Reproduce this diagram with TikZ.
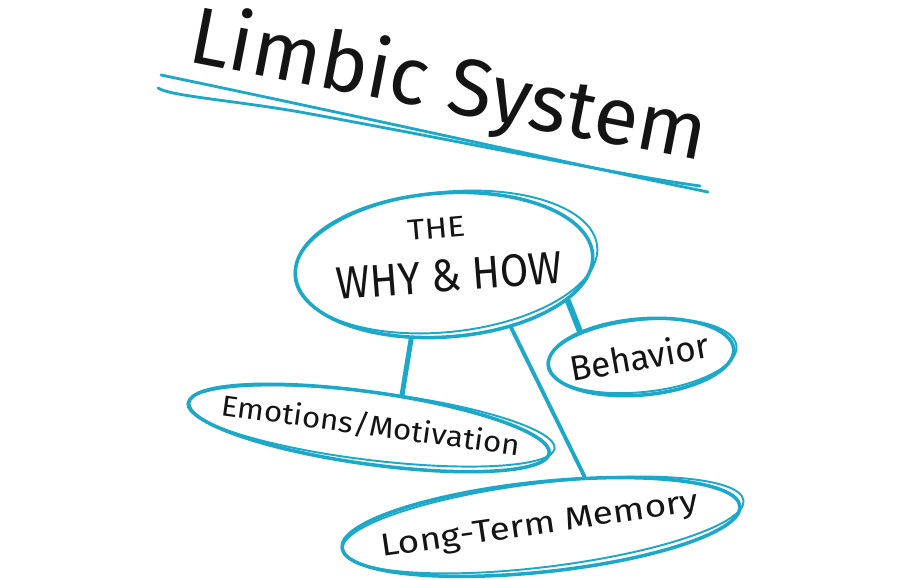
\documentclass[tikz,border=0pt]{standalone}
\usepackage{fontspec}
\setmainfont{Fira Sans}
\usetikzlibrary{shapes.geometric}
\definecolor{cy}{RGB}{28,168,200}
\begin{document}
\begin{tikzpicture}[x=0.02cm,y=-0.02cm,
  oval/.style={ellipse, draw=cy, line width=2pt, inner sep=0pt},
  ovaltwo/.style={ellipse, draw=cy, line width=1.1pt, inner sep=0pt},
  link/.style={draw=cy, line cap=round},
  lbl/.style={inner sep=0pt, text=black!92, anchor=base west}]
\useasboundingbox (0,0) rectangle (900,580);
\fill[white] (0,0) rectangle (900,580);

% title and underline
\node[lbl, rotate=-11, font=\fontsize{46}{50}\selectfont] (title) at (186,61) {Limbic System};
\draw[cy, line width=1.6pt, line cap=round] (161,75) .. controls (400,125) and (600,170) .. (708,192);
\draw[cy, line width=1.6pt, line cap=round] (158,88) .. controls (170,96) and (230,100) .. (300,112) .. controls (480,145) and (620,175) .. (700,186);

% ellipses
\node[oval, minimum width=298*0.02cm, minimum height=144*0.02cm, rotate=4] (main) at (444,265) {};
\node[ovaltwo, minimum width=304*0.02cm, minimum height=140*0.02cm, rotate=6] (mainb) at (446,262) {};
\node[oval, minimum width=186*0.02cm, minimum height=76*0.02cm, rotate=5] (beh) at (641,357) {};
\node[ovaltwo, minimum width=190*0.02cm, minimum height=72*0.02cm, rotate=6] (behb) at (642,356) {};
\node[oval, minimum width=364*0.02cm, minimum height=72*0.02cm, rotate=-8] (emo) at (369,428) {};
\node[ovaltwo, minimum width=370*0.02cm, minimum height=68*0.02cm, rotate=-7] (emob) at (371,426) {};
\node[oval, minimum width=400*0.02cm, minimum height=90*0.02cm, rotate=6] (ltm) at (541,527) {};
\node[ovaltwo, minimum width=404*0.02cm, minimum height=84*0.02cm, rotate=7] (ltmb) at (543,525) {};

% connectors
\draw[link, line width=3.4pt] (main.-20) -- (beh.152);
\draw[link, line width=2.8pt] (main.-118) -- (emo.53);
\draw[link, line width=2.2pt] (main.-47) -- (ltm.43);

% labels
\node[lbl, rotate=5, xscale=1.15, font=\fontsize{16.5}{18}\selectfont] (the) at (408,241) {THE};
\node[lbl, rotate=4.4, xscale=0.9, font=\fontsize{26}{30}\selectfont] (why) at (337,300) {WHY \& HOW};
\node[lbl, rotate=10, font=\fontsize{20}{24}\selectfont] (behl) at (572,382) {Behavior};
\node[lbl, rotate=-7.8, xscale=1.08, font=\fontsize{16.5}{20}\selectfont] (emol) at (220,415) {Emotions/Motivation};
\node[lbl, rotate=8.3, xscale=1.17, font=\fontsize{18}{22}\selectfont] (ltml) at (382,557) {Long-Term Memory};
\end{tikzpicture}
\end{document}
